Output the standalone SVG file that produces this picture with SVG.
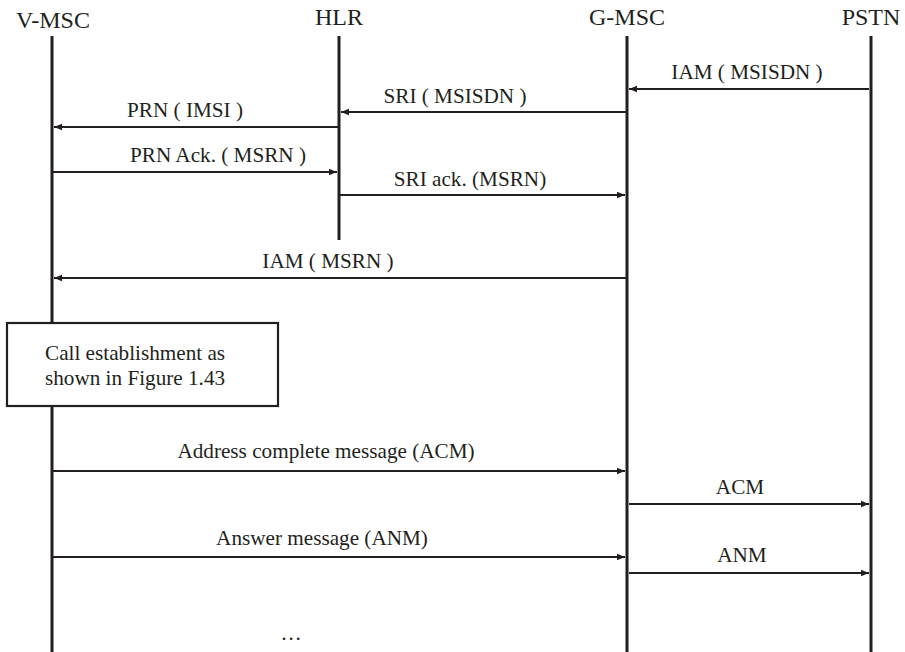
<svg xmlns="http://www.w3.org/2000/svg" width="905" height="652" viewBox="0 0 905 652">
<style>
text{fill:#231f20}
.h{font-size:24px;text-anchor:middle}
.l{font-size:21.2px;text-anchor:middle}
.b{font-size:21.2px}
.life{stroke:#231f20;stroke-width:3;fill:none}
.msg{stroke:#231f20;stroke-width:2.2;fill:none;marker-end:url(#ah)}
</style>
<defs>
<marker id="ah" viewBox="0 0 10 10" refX="10" refY="5" markerWidth="10" markerHeight="8" markerUnits="userSpaceOnUse" orient="auto">
<path d="M0,1 L10,5 L0,9 Z" fill="#231f20"/>
</marker>
</defs>
<rect width="905" height="652" fill="#fff"/>
<g font-family="'Liberation Serif', 'DejaVu Serif', serif">
<g id="vmsc"><line class="life" x1="52" y1="36" x2="52" y2="652"/><text class="h" x="53" y="28">V-MSC</text></g>
<g id="hlr"><line class="life" x1="339" y1="36" x2="339" y2="240"/><text class="h" x="339" y="25">HLR</text></g>
<g id="gmsc"><line class="life" x1="627" y1="36" x2="627" y2="652"/><text class="h" x="627" y="25">G-MSC</text></g>
<g id="pstn"><line class="life" x1="871" y1="36" x2="871" y2="652"/><text class="h" x="871" y="25">PSTN</text></g>
<g id="box"><rect x="7" y="323" width="271" height="83" fill="#fff" stroke="#231f20" stroke-width="2.2"/>
<text class="b" x="45" y="360">Call establishment as</text>
<text class="b" x="45" y="385">shown in Figure 1.43</text></g>
<g id="connectors">
<line class="msg" x1="869" y1="89" x2="629" y2="89"/>
<line class="msg" x1="626" y1="112" x2="341" y2="112"/>
<line class="msg" x1="338" y1="127" x2="54" y2="127"/>
<line class="msg" x1="53" y1="172" x2="337" y2="172"/>
<line class="msg" x1="340" y1="195" x2="625" y2="195"/>
<line class="msg" x1="626" y1="278" x2="54" y2="278"/>
<line class="msg" x1="53" y1="471" x2="625" y2="471"/>
<line class="msg" x1="629" y1="504" x2="869" y2="504"/>
<line class="msg" x1="53" y1="557" x2="625" y2="557"/>
<line class="msg" x1="629" y1="573" x2="869" y2="573"/>
</g>
<g id="labels">
<text class="l" x="747" y="79">IAM ( MSISDN )</text>
<text class="l" x="455" y="103">SRI ( MSISDN )</text>
<text class="l" x="185" y="117">PRN ( IMSI )</text>
<text class="l" x="218" y="162">PRN Ack. ( MSRN )</text>
<text class="l" x="470" y="186">SRI ack. (MSRN)</text>
<text class="l" x="328" y="268">IAM ( MSRN )</text>
<text class="l" x="326" y="458">Address complete message (ACM)</text>
<text class="l" x="740" y="494">ACM</text>
<text class="l" x="322" y="545">Answer message (ANM)</text>
<text class="l" x="742" y="562">ANM</text>
<text class="l" x="291" y="640">…</text>
</g>
</g>
</svg>
